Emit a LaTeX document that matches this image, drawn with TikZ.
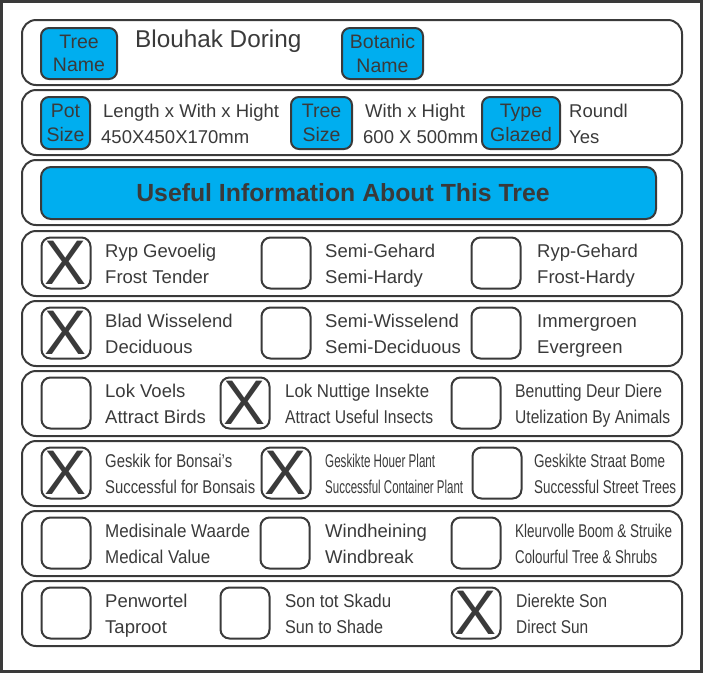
\documentclass[tikz,border=0pt]{standalone}
\usepackage{fontspec}
\usepackage{graphicx}
\setmainfont{Liberation Sans}
\definecolor{inkgray}{HTML}{3A3A3A}
\definecolor{tagblue}{HTML}{00AEEF}
\newcommand{\squeezed}[2]{\resizebox{#1pt}{\height}{#2}}
\tikzset{
  rowframe/.style={draw=inkgray, line width=2pt, rounded corners=14pt},
  tag/.style={draw=inkgray, fill=tagblue, line width=2pt, rounded corners=8pt,
    align=center, inner sep=0pt, text=inkgray, minimum height=51pt,
    font=\fontsize{19.5}{23.5}\selectfont},
  tickbox/.style={draw=inkgray, line width=2pt, rounded corners=9pt,
    minimum width=49pt, minimum height=51pt, inner sep=0pt, text=inkgray,
    font=\fontsize{63}{63}\selectfont},
  caption/.style={anchor=base west, inner sep=0pt, text=inkgray,
    font=\fontsize{18.5}{22}\selectfont},
}

\begin{document}
\begin{tikzpicture}[x=1pt, y=-1pt]
    \useasboundingbox (0,0) rectangle (703,673);
    \draw[inkgray, line width=2.5pt] (1.5,1.5) rectangle (701.5,671.5);

    % frames of the rows
    \draw[rowframe] (22,20) rectangle (682,85);
    \draw[rowframe] (22,90) rectangle (682,155);
    \draw[rowframe] (22,160) rectangle (682,225);
    \draw[rowframe] (22,231) rectangle (682,296);
    \draw[rowframe] (22,301) rectangle (682,366);
    \draw[rowframe] (22,371) rectangle (682,436);
    \draw[rowframe] (22,441) rectangle (682,506);
    \draw[rowframe] (22,511) rectangle (682,576);
    \draw[rowframe] (22,581) rectangle (682,646);

    % names
    \node[tag, minimum width=76pt] (treeName) at (79,53.5) {Tree\\Name};
    \node[caption, font=\fontsize{24.3}{28}\selectfont] (treeValue) at (135,47) {Blouhak Doring};
    \node[tag, minimum width=81pt] (botName) at (382.5,53.5) {Botanic\\Name};

    % sizes
    \node[tag, minimum width=49pt, minimum height=52pt] (potSize) at (65.5,123) {Pot\\Size};
    \node[caption] (potA) at (103,117) {Length x With x Hight};
    \node[caption] (potB) at (101,143) {450X450X170mm};
    \node[tag, minimum width=61pt, minimum height=52pt] (treeSize) at (321.5,123) {Tree\\Size};
    \node[caption] (sizeA) at (365,117) {With x Hight};
    \node[caption] (sizeB) at (363,143) {600 X 500mm};
    \node[tag, minimum width=78pt, minimum height=52pt] (typeGlazed) at (521,123) {Type\\Glazed};
    \node[caption] (typeA) at (569,117) {Roundl};
    \node[caption] (typeB) at (569,143) {Yes};

    % banner
    \node[tag, minimum width=615pt, minimum height=52pt, rounded corners=10pt] (banner) at (348.5,193) {};
    \node[inner sep=0pt, text=inkgray, font=\fontsize{24.8}{28}\selectfont\bfseries] (bannerText) at (343,193) {Useful Information About This Tree};

    % frost
    \node[tickbox] (frA) at (66,263) {X};
    \node[caption] (frA1) at (105,257) {Ryp Gevoelig};
    \node[caption] (frA2) at (105,283) {Frost Tender};
    \node[tickbox] (frB) at (286,263) {};
    \node[caption] (frB1) at (325,257) {Semi-Gehard};
    \node[caption] (frB2) at (325,283) {Semi-Hardy};
    \node[tickbox] (frC) at (496,263) {};
    \node[caption] (frC1) at (537,257) {Ryp-Gehard};
    \node[caption] (frC2) at (537,283) {Frost-Hardy};

    % leaves
    \node[tickbox] (lfA) at (66,333) {X};
    \node[caption] (lfA1) at (105,327) {Blad Wisselend};
    \node[caption] (lfA2) at (105,353) {Deciduous};
    \node[tickbox] (lfB) at (286,333) {};
    \node[caption] (lfB1) at (325,327) {Semi-Wisselend};
    \node[caption] (lfB2) at (325,353) {Semi-Deciduous};
    \node[tickbox] (lfC) at (496,333) {};
    \node[caption] (lfC1) at (537,327) {Immergroen};
    \node[caption] (lfC2) at (537,353) {Evergreen};

    % wildlife
    \node[tickbox] (wlA) at (66,403) {};
    \node[caption] (wlA1) at (105,397) {Lok Voels};
    \node[caption] (wlA2) at (105,423) {Attract Birds};
    \node[tickbox] (wlB) at (245,403) {X};
    \node[caption] (wlB1) at (285,397) {\squeezed{144}{Lok Nuttige Insekte}};
    \node[caption] (wlB2) at (285,423) {\squeezed{148}{Attract Useful Insects}};
    \node[tickbox] (wlC) at (476,403) {};
    \node[caption] (wlC1) at (515,397) {\squeezed{147}{Benutting Deur Diere}};
    \node[caption] (wlC2) at (515,423) {\squeezed{155}{Utelization By Animals}};

    % uses
    \node[tickbox] (usA) at (66,473) {X};
    \node[caption] (usA1) at (105,467) {\squeezed{127}{Geskik for Bonsai’s}};
    \node[caption] (usA2) at (105,493) {\squeezed{150}{Successful for Bonsais}};
    \node[tickbox] (usB) at (286,473) {X};
    \node[caption] (usB1) at (325,467) {\squeezed{110}{Geskikte Houer Plant}};
    \node[caption] (usB2) at (325,493) {\squeezed{138}{Successful Container Plant}};
    \node[tickbox] (usC) at (497,473) {};
    \node[caption] (usC1) at (534,467) {\squeezed{131}{Geskikte Straat Bome}};
    \node[caption] (usC2) at (534,493) {\squeezed{142}{Successful Street Trees}};

    % garden
    \node[tickbox] (gdA) at (66,543) {};
    \node[caption] (gdA1) at (105,537) {\squeezed{145}{Medisinale Waarde}};
    \node[caption] (gdA2) at (105,563) {\squeezed{105}{Medical Value}};
    \node[tickbox] (gdB) at (285,543) {};
    \node[caption] (gdB1) at (325,537) {Windheining};
    \node[caption] (gdB2) at (325,563) {Windbreak};
    \node[tickbox] (gdC) at (476,543) {};
    \node[caption] (gdC1) at (515,537) {\squeezed{157}{Kleurvolle Boom \& Struike}};
    \node[caption] (gdC2) at (515,563) {\squeezed{142}{Colourful Tree \& Shrubs}};

    % roots and sun
    \node[tickbox] (snA) at (66,613) {};
    \node[caption] (snA1) at (105,607) {Penwortel};
    \node[caption] (snA2) at (105,633) {Taproot};
    \node[tickbox] (snB) at (245,613) {};
    \node[caption] (snB1) at (285,607) {\squeezed{106}{Son tot Skadu}};
    \node[caption] (snB2) at (285,633) {\squeezed{98}{Sun to Shade}};
    \node[tickbox] (snC) at (476,613) {X};
    \node[caption] (snC1) at (516,607) {\squeezed{91}{Dierekte Son}};
    \node[caption] (snC2) at (516,633) {\squeezed{72}{Direct Sun}};
\end{tikzpicture}
\end{document}
